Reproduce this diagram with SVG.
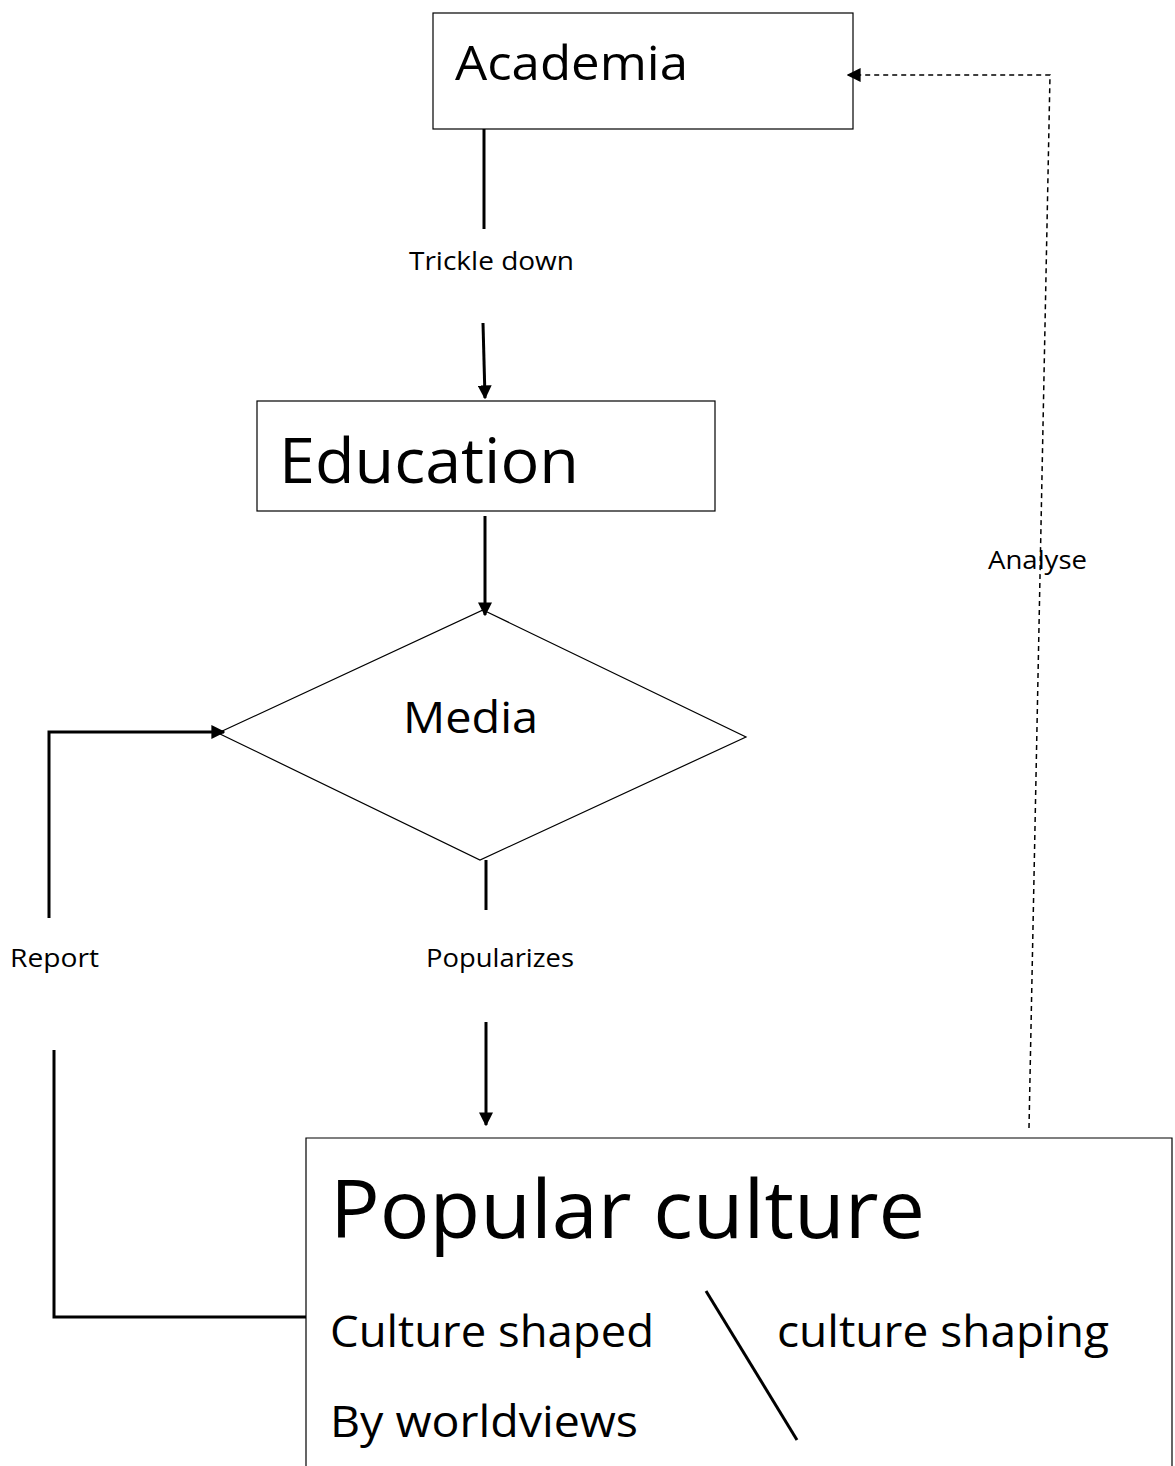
<svg xmlns="http://www.w3.org/2000/svg" width="1175" height="1466" viewBox="0 0 1175 1466">
<style>
.box{fill:#fff;stroke:#000;stroke-width:1.2}
.t{font-family:"Open Sans","Noto Sans",sans-serif;fill:#000}
.c{stroke:#000;stroke-width:3;fill:none}
.d{stroke:#000;stroke-width:1.5;fill:none;stroke-dasharray:5 4}
</style>
<defs>
<marker id="ah" viewBox="0 0 10 10" refX="9" refY="5" markerWidth="14" markerHeight="14" markerUnits="userSpaceOnUse" orient="auto"><path d="M0,0L10,5L0,10z" fill="#000"/></marker>
</defs>
<rect width="1175" height="1466" fill="#fff"/>
<g id="academia"><rect class="box" x="433" y="13" width="420" height="116"/><text class="t" x="455" y="80" font-size="48" textLength="233" lengthAdjust="spacingAndGlyphs">Academia</text></g>
<g id="education"><rect class="box" x="257" y="401" width="458" height="110"/><text class="t" x="279" y="483" font-size="62" textLength="300" lengthAdjust="spacingAndGlyphs">Education</text></g>
<g id="media"><polygon class="box" points="483,610 746,737 480,860 218,733"/><text class="t" x="403" y="733" font-size="44" textLength="135" lengthAdjust="spacingAndGlyphs">Media</text></g>
<g id="popular"><path class="box" d="M306,1466V1138H1172V1466"/><text class="t" x="330" y="1238" font-size="80" textLength="595" lengthAdjust="spacingAndGlyphs">Popular culture</text>
<text class="t" x="330" y="1347" font-size="44" textLength="324" lengthAdjust="spacingAndGlyphs">Culture shaped</text>
<text class="t" x="777" y="1347" font-size="44" textLength="332" lengthAdjust="spacingAndGlyphs">culture shaping</text>
<text class="t" x="330" y="1437" font-size="44" textLength="308" lengthAdjust="spacingAndGlyphs">By worldviews</text>
<line x1="706" y1="1291" x2="797" y2="1440" stroke="#000" stroke-width="3"/></g>
<g id="connectors">
<line class="c" x1="484" y1="129" x2="484" y2="229"/>
<line class="c" x1="483" y1="323" x2="485" y2="398" marker-end="url(#ah)"/>
<line class="c" x1="485" y1="516" x2="485" y2="615" marker-end="url(#ah)"/>
<line class="c" x1="486" y1="860" x2="486" y2="910"/>
<line class="c" x1="486" y1="1022" x2="486" y2="1125" marker-end="url(#ah)"/>
<path class="c" d="M49,918V732H224" marker-end="url(#ah)"/>
<path class="c" d="M54,1050V1317H306"/>
<path class="d" d="M1029,1128L1050,75H848" marker-end="url(#ah)"/>
<text class="t" x="409" y="270" font-size="26" textLength="165" lengthAdjust="spacingAndGlyphs">Trickle down</text>
<text class="t" x="10" y="967" font-size="26" textLength="89" lengthAdjust="spacingAndGlyphs">Report</text>
<text class="t" x="426" y="967" font-size="26" textLength="148" lengthAdjust="spacingAndGlyphs">Popularizes</text>
<text class="t" x="988" y="569" font-size="26" textLength="99" lengthAdjust="spacingAndGlyphs">Analyse</text>
</g>
</svg>
